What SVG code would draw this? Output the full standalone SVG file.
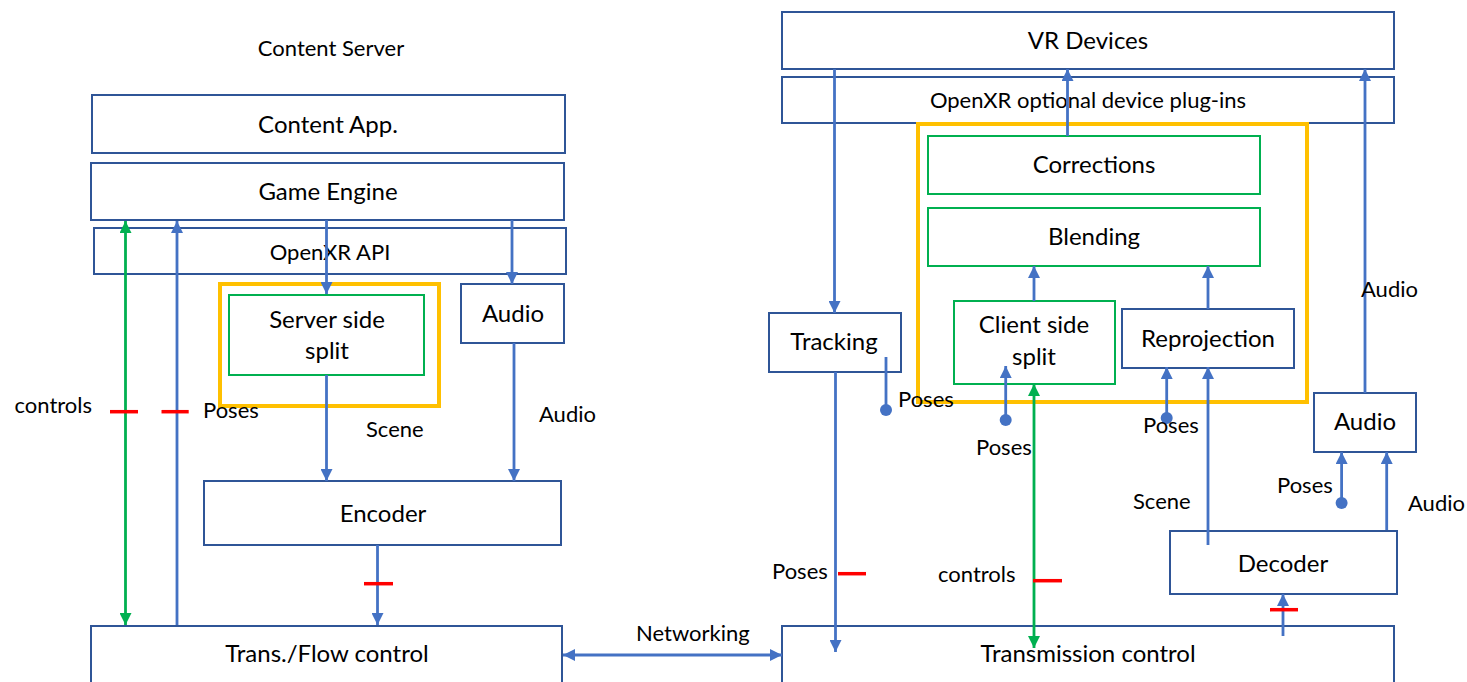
<svg xmlns="http://www.w3.org/2000/svg" width="1467" height="682" viewBox="0 0 1467 682">
<style>
.bx{fill:#ffffff;stroke:#2F5597;stroke-width:2}
.gb{fill:#ffffff;stroke:#00B050;stroke-width:2}
.yb{fill:none;stroke:#FFC000;stroke-width:4}
.t{font-family:Lato,"Liberation Sans",sans-serif;font-size:24px;fill:#000;text-anchor:middle}
.m{font-family:Lato,"Liberation Sans",sans-serif;font-size:22px;fill:#000;text-anchor:middle}
.l{font-family:Lato,"Liberation Sans",sans-serif;font-size:22px;fill:#000}
.b{stroke:#4472C4;stroke-width:2.8;fill:none}
.g{stroke:#00B050;stroke-width:2.8;fill:none}
.r{stroke:#FF0000;stroke-width:3.5}
.d{fill:#4472C4}
</style>
<defs>
<marker id="ab" markerUnits="userSpaceOnUse" markerWidth="12" markerHeight="12" viewBox="0 0 12 12" refX="12" refY="6" orient="auto-start-reverse"><path d="M0,0 L12,6 L0,12 z" fill="#4472C4"/></marker>
<marker id="ag" markerUnits="userSpaceOnUse" markerWidth="12" markerHeight="12" viewBox="0 0 12 12" refX="12" refY="6" orient="auto-start-reverse"><path d="M0,0 L12,6 L0,12 z" fill="#00B050"/></marker>
</defs>

<text class="m" x="331" y="56">Content Server</text>

<g id="content-app"><rect class="bx" x="92" y="95" width="473" height="58"/><text class="t" x="328" y="133">Content App.</text></g>
<g id="game-engine"><rect class="bx" x="91" y="163" width="473" height="57"/><text class="t" x="328" y="200">Game Engine</text></g>
<g id="openxr-api"><rect class="bx" x="94" y="228" width="472" height="46"/><text class="m" x="330" y="260">OpenXR API</text></g>
<g id="server-split-frame"><rect class="yb" x="220" y="284" width="219" height="122"/></g>
<g id="server-split"><rect class="gb" x="229" y="295" width="195" height="80"/><text class="t" x="327" y="328">Server side</text><text class="t" x="327" y="359">split</text></g>
<g id="audio-left"><rect class="bx" x="461" y="284" width="103" height="59"/><text class="t" x="513" y="322">Audio</text></g>
<g id="encoder"><rect class="bx" x="204" y="481" width="357" height="64"/><text class="t" x="383" y="522">Encoder</text></g>
<g id="trans-flow"><rect class="bx" x="91" y="626" width="471" height="70"/><text class="t" x="327" y="662">Trans./Flow control</text></g>

<g id="vr-devices"><rect class="bx" x="782" y="12" width="612" height="57"/><text class="t" x="1088" y="49">VR Devices</text></g>
<g id="openxr-plugins"><rect class="bx" x="782" y="77" width="612" height="46"/><text class="m" x="1088" y="108">OpenXR optional device plug-ins</text></g>
<g id="client-frame"><rect class="yb" x="918" y="124" width="389" height="278"/></g>
<g id="corrections"><rect class="gb" x="928" y="136" width="332" height="58"/><text class="t" x="1094" y="173">Corrections</text></g>
<g id="blending"><rect class="gb" x="928" y="208" width="332" height="58"/><text class="t" x="1094" y="245">Blending</text></g>
<g id="tracking"><rect class="bx" x="769" y="313" width="132" height="59"/><text class="t" x="834" y="350">Tracking</text></g>
<g id="client-split"><rect class="gb" x="954" y="301" width="161" height="83"/><text class="t" x="1034" y="333">Client side</text><text class="t" x="1034" y="365">split</text></g>
<g id="reprojection"><rect class="bx" x="1122" y="309" width="172" height="59"/><text class="t" x="1208" y="347">Reprojection</text></g>
<g id="audio-right"><rect class="bx" x="1314" y="393" width="102" height="59"/><text class="t" x="1365" y="430">Audio</text></g>
<g id="decoder"><rect class="bx" x="1170" y="531" width="227" height="63"/><text class="t" x="1283" y="572">Decoder</text></g>
<g id="transmission"><rect class="bx" x="782" y="626" width="612" height="70"/><text class="t" x="1088" y="662">Transmission control</text></g>

<g id="connectors">
<line class="g" x1="125.5" y1="221" x2="125.5" y2="625" marker-start="url(#ag)" marker-end="url(#ag)"/>
<line class="b" x1="177" y1="625" x2="177" y2="221" marker-end="url(#ab)"/>
<line class="b" x1="326.5" y1="220" x2="326.5" y2="294" marker-end="url(#ab)"/>
<line class="b" x1="512" y1="220" x2="512" y2="284" marker-end="url(#ab)"/>
<line class="b" x1="326.5" y1="375" x2="326.5" y2="481" marker-end="url(#ab)"/>
<line class="b" x1="514" y1="343" x2="514" y2="481" marker-end="url(#ab)"/>
<line class="b" x1="377.5" y1="545" x2="377.5" y2="625" marker-end="url(#ab)"/>
<line class="b" x1="563" y1="655" x2="782" y2="655" marker-start="url(#ab)" marker-end="url(#ab)"/>
<line class="r" x1="110" y1="411.7" x2="138" y2="411.7"/>
<line class="r" x1="161.5" y1="411.7" x2="188.7" y2="411.7"/>
<line class="r" x1="364" y1="583.7" x2="393" y2="583.7"/>

<line class="b" x1="834.5" y1="69" x2="834.5" y2="313" marker-end="url(#ab)"/>
<line class="b" x1="835.5" y1="372" x2="835.5" y2="652" marker-end="url(#ab)"/>
<line class="b" x1="886" y1="357" x2="886" y2="410"/><circle class="d" cx="886" cy="410" r="6"/>
<line class="b" x1="1067.5" y1="136" x2="1067.5" y2="69" marker-end="url(#ab)"/>
<line class="b" x1="1034" y1="301" x2="1034" y2="266" marker-end="url(#ab)"/>
<line class="b" x1="1208" y1="309" x2="1208" y2="266" marker-end="url(#ab)"/>
<line class="b" x1="1005.7" y1="420" x2="1005.7" y2="366" marker-end="url(#ab)"/><circle class="d" cx="1005.7" cy="420" r="6"/>
<line class="g" x1="1034" y1="384" x2="1034" y2="648" marker-start="url(#ag)" marker-end="url(#ag)"/>
<line class="b" x1="1166.7" y1="418" x2="1166.7" y2="367" marker-end="url(#ab)"/><circle class="d" cx="1166.7" cy="418" r="6"/>
<line class="b" x1="1208" y1="545" x2="1208" y2="367" marker-end="url(#ab)"/>
<line class="b" x1="1365" y1="393" x2="1365" y2="69" marker-end="url(#ab)"/>
<line class="b" x1="1341.6" y1="503" x2="1341.6" y2="452" marker-end="url(#ab)"/><circle class="d" cx="1341.6" cy="503" r="6"/>
<line class="b" x1="1386.7" y1="530" x2="1386.7" y2="452" marker-end="url(#ab)"/>
<line class="b" x1="1283" y1="636" x2="1283" y2="594" marker-end="url(#ab)"/>
<line class="r" x1="838" y1="573.7" x2="866" y2="573.7"/>
<line class="r" x1="1033" y1="580.7" x2="1062" y2="580.7"/>
<line class="r" x1="1270" y1="609.7" x2="1298" y2="609.7"/>
</g>

<g id="labels">
<text class="l" x="14.5" y="413">controls</text>
<text class="l" x="203" y="418">Poses</text>
<text class="l" x="366" y="437">Scene</text>
<text class="l" x="539" y="422">Audio</text>
<text class="l" x="636" y="641">Networking</text>
<text class="l" x="898" y="407">Poses</text>
<text class="l" x="976" y="455">Poses</text>
<text class="l" x="1143" y="433">Poses</text>
<text class="l" x="1361" y="297">Audio</text>
<text class="l" x="1277" y="493">Poses</text>
<text class="l" x="1408" y="511">Audio</text>
<text class="l" x="1133" y="509">Scene</text>
<text class="l" x="772" y="579">Poses</text>
<text class="l" x="938" y="582">controls</text>
</g>
</svg>
